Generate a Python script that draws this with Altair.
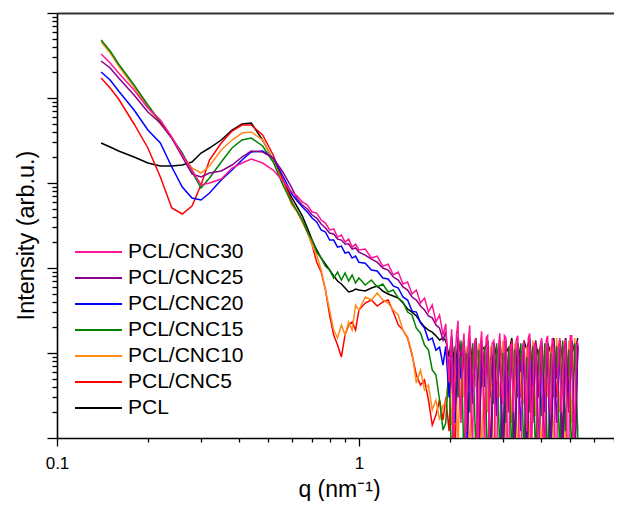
import altair as alt
import pandas as pd

# ---------------- data ----------------
Q_LOW = [0.14, 0.15, 0.16, 0.18, 0.20, 0.22, 0.24, 0.26, 0.28, 0.30, 0.32, 0.35,
         0.38, 0.41, 0.44, 0.48, 0.52, 0.56, 0.60]
Q_MID = [0.625, 0.65, 0.675, 0.70, 0.725, 0.75, 0.775, 0.80, 0.825, 0.85, 0.875,
         0.90, 0.925, 0.95, 0.975, 1.0, 1.05, 1.1, 1.15, 1.2, 1.25, 1.3, 1.35,
         1.4, 1.45, 1.5, 1.55, 1.6, 1.65, 1.7, 1.75, 1.8, 1.85, 1.9]
Q_HIGH = [1.94, 1.99, 2.03, 2.08, 2.13, 2.18, 2.23, 2.28, 2.33, 2.38,
          2.44, 2.50, 2.55, 2.61, 2.67, 2.73, 2.80, 2.86, 2.93, 3.00,
          3.07, 3.14, 3.21, 3.28, 3.36, 3.44, 3.52, 3.60, 3.68, 3.77,
          3.85, 3.94, 4.03, 4.13, 4.22, 4.32, 4.42, 4.52, 4.63,
          4.73, 4.84, 4.96, 5.07, 5.19, 5.31]
# extra in-between q values (PCL/CNC30 is sampled more finely in the noisy tail)
Q_HIGH_MID = [1.965, 2.01, 2.055, 2.105, 2.155, 2.205, 2.255, 2.305, 2.355, 2.41,
              2.47, 2.525, 2.58, 2.64, 2.70, 2.765, 2.83, 2.895, 2.965, 3.035,
              3.105, 3.175, 3.245, 3.32, 3.40, 3.48, 3.56, 3.64, 3.725, 3.81,
              3.895, 3.985, 4.08, 4.175, 4.27, 4.37, 4.47, 4.575, 4.68, 4.785,
              4.90, 5.015, 5.13, 5.25]

PCL = ([2955, 2651, 2380, 2022, 1719, 1585, 1585, 1628, 1766, 2254, 2581, 3204,
        4202, 4946, 5082, 3204, 1865, 1085, 666]
       + [522, 409, 296, 213, 163, 131, 111, 94.7, 80.5, 70.3, 64.8, 58.2, 52.2,
          53.6, 56.6, 55.1, 53.6, 58.2, 61.4, 53.6, 49.4, 46.8, 44.3, 38.7, 32.9,
          30.3, 27.3, 23.2, 20.3, 18.6, 17.6, 15.9, 14.2, 15.0]
       + [14, 9, 15, 6, 13, 10, 14, 4, 13, 8, 15, 5, 12, 11, 14, 3, 13, 9, 14, 6,
          12, 10, 15, 4, 13, 8, 14, 11, 15, 5, 13, 9, 14, 3.5, 13, 10, 15, 6, 14,
          8, 15, 4, 14, 10, 15])
CNC5 = ([17190, 13110, 9733, 4946, 2581, 1176, 508, 432, 536, 947, 1865, 2955,
         4090, 4814, 4814, 3669, 2135, 1085, 598]
        + [456, 348, 265, 186, 117, 89.7, 55.1, 28.0, 16.3, 12.4, 8.97, 16.3, 21.4,
           23.2, 18.6, 32.0, 38.7, 42.0, 35.7, 39.8, 42.0, 30.3, 21.4, 18.6, 15.0,
           9.47, 5.51, 4.20, 4.81, 2.80, 1.42, 1.86, 2.80, 1.63]
        + [3, 1.2, 8, 0.6, 10, 2, 12, 0.8, 11, 3.5, 13, 0.5, 12, 1.5, 14, 0.6, 11,
           4, 13, 0.5, 12, 2, 14, 0.7, 11, 3, 13, 0.5, 12, 1.8, 14, 0.6, 12, 2.5,
           13, 0.5, 12, 3, 14, 0.8, 12, 2, 13, 0.6, 12])
CNC10 = ([45590, 33820, 23800, 13470, 7835, 4946, 3382, 2135, 1501, 1311, 1585,
          2445, 3204, 3873, 3981, 3204, 1865, 1000, 551]
         + [456, 348, 265, 186, 142, 94.7, 55.1, 32.0, 18.6, 15.0, 21.4, 16.3, 23.2,
            18.6, 36.7, 32.0, 45.6, 42.0, 50.8, 42.0, 38.7, 32.0, 28.0, 18.6, 15.4,
            10.0, 4.43, 6.31, 3.67, 4.20, 2.14, 2.80, 1.63, 2.44]
         + [2.5, 6, 1.4, 9, 0.8, 11, 3, 12, 0.5, 10, 4, 13, 0.6, 11, 2, 12, 0.4, 10,
            3, 14, 0.7, 12, 1.5, 13, 0.5, 11, 2.5, 12, 0.6, 14, 1.8, 11, 0.5, 13, 3,
            12, 0.7, 15, 2, 12, 0.5, 14, 1.5, 15, 1.2])
CNC15 = ([48140, 35710, 25120, 14220, 8273, 5219, 3382, 2254, 1347, 873, 1145,
          1766, 2581, 3204, 3382, 2724, 1766, 947, 582]
         + [468, 367, 265, 213, 154, 131, 105, 94.7, 76.2, 89.7, 72.2, 87.3, 70.3,
            82.7, 66.6, 76.2, 63.1, 72.2, 59.8, 64.8, 52.2, 55.1, 44.3, 39.8, 30.3,
            28.0, 19.6, 17.2, 12.4, 10.8, 6.31, 5.51, 2.80, 1.24]
         + [1.5, 8, 0.4, 12, 3, 14, 0.5, 10, 2, 13, 0.7, 11, 4, 12, 0.4, 9, 2.5, 13,
            0.6, 10, 1.5, 12, 0.5, 11, 3, 13, 0.6, 9, 2, 12, 0.5, 11, 1.8, 13, 0.4,
            10, 3, 12, 0.6, 14, 1.2, 11, 0.5, 13, 1.0])
CNC20 = ([20220, 16280, 12090, 7225, 4202, 2955, 1542, 897, 666, 631, 762, 1085,
          1422, 1865, 2315, 2380, 1969, 1209, 742]
         + [614, 522, 456, 387, 348, 280, 265, 213, 213, 176, 181, 150, 154, 131,
            138, 117, 114, 94.7, 92.2, 76.2, 74.2, 61.4, 58.2, 45.6, 42.0, 31.1,
            30.3, 22.6, 19.6, 14.2, 15.0, 10.8, 11.7, 7.22]
         + [12, 3, 16, 1.5, 11, 5, 14, 0.6, 10, 2.5, 13, 0.8, 9, 4, 12, 0.5, 11, 1.8,
            13, 0.4, 10, 3, 12, 0.6, 11, 1.2, 13, 0.5, 10, 4, 12, 0.7, 9, 2, 13, 0.5,
            11, 1.5, 12, 0.6, 10, 3, 13, 0.5, 12])
CNC25 = ([27240, 22540, 17190, 10850, 6842, 5082, 3382, 2022, 1276, 1176, 1311,
          1384, 1628, 2022, 2380, 2315, 1969, 1347, 873]
         + [648, 551, 494, 420, 387, 329, 296, 258, 251, 219, 213, 191, 191, 167,
            172, 154, 142, 127, 117, 100, 94.7, 78.3, 72.2, 59.8, 55.1, 45.6, 42.0,
            35.7, 32.0, 27.3, 25.9, 21.4, 19.6, 14.2]
         + [18, 6, 14, 2, 16, 9, 12, 1.2, 15, 4, 11, 0.6, 14, 5, 10, 0.4, 13, 3, 12,
            0.7, 14, 2, 11, 0.5, 13, 6, 10, 0.4, 12, 1.5, 14, 3, 11, 0.6, 13, 0.8,
            12, 5, 10, 0.5, 13, 2, 12, 0.7, 13])
CNC30 = ([32920, 25810, 19690, 12420, 7627, 5511, 3475, 2135, 1422, 947, 1000,
          1115, 1501, 1719, 1916, 1719, 1422, 1056, 783]
         + [703, 598, 551, 456, 443, 367, 338, 280, 288, 231, 244, 202, 219, 176,
            191, 163, 167, 131, 138, 105, 111, 82.7, 89.7, 64.8, 68.4, 49.4, 55.1,
            38.7, 44.3, 30.3, 36.7, 23.2, 28.0, 16.3]
         + [22, 4.5, 19, 8, 24, 1.5, 17, 6, 21, 0.8, 15, 3, 18, 0.5, 16, 7, 14, 0.4,
            17, 2.5, 15, 0.6, 13, 5, 16, 0.3, 14, 1.2, 17, 3.5, 12, 0.5, 15, 0.7, 16,
            2, 13, 0.4, 15, 4, 14, 0.6, 16, 1.5, 14])
CNC30_MID_TAIL = [9, 12, 0.5, 16, 3, 11, 0.6, 14, 2, 13, 0.4, 12, 6, 15, 1, 13,
                  0.5, 11, 4, 16, 0.7, 12, 2, 14, 0.5, 10, 5, 15, 0.4, 13, 1.5,
                  12, 0.6, 14, 3, 15, 0.5, 11, 2, 13, 0.6, 16, 0.8, 12]

# drawing order (last on top)
Q_ALL = Q_LOW + Q_MID + Q_HIGH
DRAW_ORDER = [("PCL", Q_ALL, PCL), ("PCL/CNC5", Q_ALL, CNC5),
              ("PCL/CNC10", Q_ALL, CNC10), ("PCL/CNC15", Q_ALL, CNC15),
              ("PCL/CNC20", Q_ALL, CNC20), ("PCL/CNC25", Q_ALL, CNC25),
              ("PCL/CNC30", Q_ALL + Q_HIGH_MID, CNC30 + CNC30_MID_TAIL)]
LEGEND_ORDER = ["PCL/CNC30", "PCL/CNC25", "PCL/CNC20", "PCL/CNC15",
                "PCL/CNC10", "PCL/CNC5", "PCL"]
LEGEND_COLORS = ["#FF1493", "#8B008B", "#0000FF", "#008000",
                 "#FF8C1A", "#FF0000", "#000000"]

X_MAJOR = [0.1, 1]
X_MINOR = [0.2, 0.3, 0.4, 0.5, 0.6, 0.7, 0.8, 0.9, 2, 3, 4, 5, 6, 7]
Y_MAJOR = [1, 10, 100, 1000, 10000, 100000]
Y_MINOR = [m * 10 ** k for k in range(5) for m in range(2, 10)]

rows = []
for name, qs, vals in DRAW_ORDER:
    for q, v in zip(qs, vals):
        rows.append({"q": q, "I": v, "series": name})
df = pd.DataFrame(rows)

FONT = "Liberation Sans"
xscale = alt.Scale(type="log", domain=[0.1, 7.0], nice=False)
yscale = alt.Scale(type="log", domain=[1, 100000], nice=False)

base = alt.Chart(df)

lines = base.mark_line(clip=True, strokeWidth=1.5).encode(
    x=alt.X("q:Q", scale=xscale,
            axis=alt.Axis(orient="bottom", values=X_MAJOR, format="~g",
                          tickSize=8, tickWidth=1.3, tickColor="black",
                          labelFontSize=17, labelPadding=9, labelColor="black",
                          labelFont=FONT, labelFlush=False,
                          domainColor="black", domainWidth=1.6,
                          title="q (nm⁻¹)", titleFontSize=23, titleFont=FONT,
                          titleFontWeight="normal", titleColor="black",
                          titleX=282, titleY=58, titleBaseline="alphabetic",
                          grid=False)),
    y=alt.Y("I:Q", scale=yscale,
            axis=alt.Axis(orient="left", values=Y_MAJOR, tickSize=10,
                          tickWidth=1.3, tickColor="black", labels=False,
                          domainColor="black", domainWidth=1.6,
                          title="Intensity (arb.u.)", titleFontSize=23.5,
                          titleFont=FONT, titleFontWeight="normal",
                          titleColor="black", titleAngle=270, titleX=-24,
                          titleY=222, titleBaseline="alphabetic",
                          titleAlign="center", grid=False)),
    color=alt.Color("series:N",
                    scale=alt.Scale(domain=LEGEND_ORDER, range=LEGEND_COLORS),
                    legend=alt.Legend(title=None, orient="none", legendX=17,
                                      legendY=226, symbolType="stroke",
                                      symbolSize=2209, symbolStrokeWidth=2,
                                      clipHeight=26, rowPadding=0,
                                      labelFontSize=21, labelFont=FONT,
                                      labelColor="black", labelOffset=5,
                                      labelLimit=300, padding=0)),
)

minor = base.mark_point(opacity=0).encode(
    x=alt.X("q:Q", scale=xscale,
            axis=alt.Axis(orient="bottom", values=X_MINOR, tickSize=4,
                          tickWidth=1.3, tickColor="black", labels=False,
                          domain=False, title=None, grid=False)),
    y=alt.Y("I:Q", scale=yscale,
            axis=alt.Axis(orient="left", values=Y_MINOR, tickSize=5,
                          tickWidth=1.3, tickColor="black", labels=False,
                          domain=False, title=None, grid=False)),
)

frame = base.mark_point(opacity=0).encode(
    x=alt.X("q:Q", scale=xscale,
            axis=alt.Axis(orient="top", ticks=False, labels=False, domain=True,
                          domainColor="#333333", domainWidth=2, title=None,
                          grid=False)),
    y=alt.Y("I:Q", scale=yscale, axis=None),
)

chart = alt.layer(lines, minor, frame).resolve_axis(
    x="independent", y="independent"
).properties(
    width=557, height=425,
    autosize=alt.AutoSizeParams(type="none"),
    padding={"left": 49, "top": 5, "right": 0, "bottom": 63},
).configure_view(strokeWidth=0)

chart.save("out.html", embed_options={"renderer": "svg", "actions": False})
